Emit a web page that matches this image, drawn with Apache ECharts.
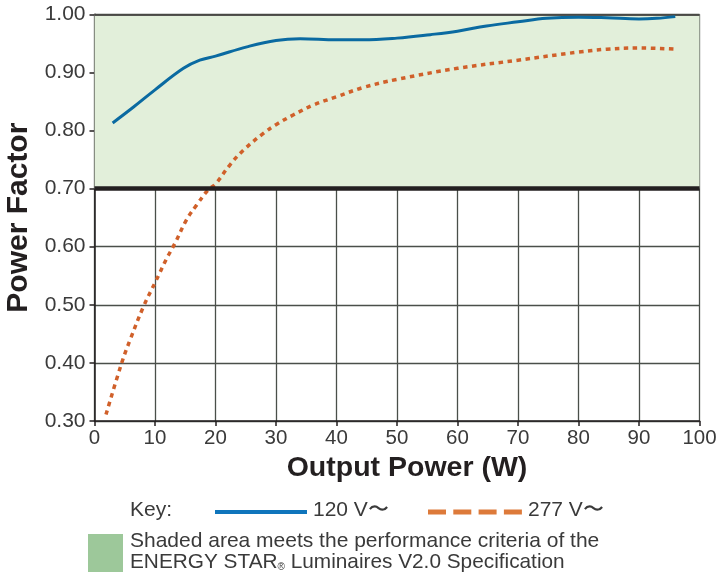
<!DOCTYPE html>
<html>
<head>
<meta charset="utf-8">
<script src="https://cdn.jsdelivr.net/npm/echarts@6/dist/echarts.min.js"></script>
<style>html,body{margin:0;padding:0;background:#fff}#c{width:717px;height:574px}</style>
</head>
<body>
<div id="c"></div>
<script>
const xTicks = [0,10,20,30,40,50,60,70,80,90,100];
const yTicks = [0.30,0.40,0.50,0.60,0.70,0.80,0.90,1.00];
const s120x = [3, 6.4, 10, 14.7, 17.4, 20, 25.2, 30, 34, 40, 44.4, 50, 55.5, 60, 64.8, 70, 74.7, 80, 84.7, 90, 92.9, 96];
const s120y = [0.813, 0.840, 0.870, 0.907, 0.921, 0.928, 0.944, 0.955, 0.958, 0.956, 0.956, 0.959, 0.965, 0.971, 0.980, 0.987, 0.993, 0.995, 0.994, 0.992, 0.993, 0.996];
const s277x = [1.9, 4.5, 5.9, 8.1, 10.1, 11.9, 13.3, 15.2, 16.9, 18.8, 20, 22.4, 24.6, 27.9, 30, 32.9, 36.2, 40, 44.4, 50, 60, 70, 80, 84.7, 90, 96];
const s277y = [0.311, 0.400, 0.440, 0.497, 0.540, 0.579, 0.606, 0.646, 0.672, 0.698, 0.708, 0.741, 0.766, 0.795, 0.810, 0.827, 0.844, 0.858, 0.874, 0.888, 0.907, 0.921, 0.935, 0.940, 0.942, 0.940];
const threshold = 0.70;
const seriesNames = ['120 V〜', '277 V〜'];

const chart = echarts.init(document.getElementById('c'), null, {renderer: 'canvas'});
const font = '"Liberation Sans", Arial, sans-serif';
const zip = (xs, ys) => xs.map((x, i) => [x, ys[i]]);
const txt = {fontFamily: font, fontSize: 21, fill: '#3a3a3a'};

chart.setOption({
  animation: false,
  grid: {left: 94.5, right: 17.5, top: 14.3, bottom: 153, containLabel: false, outerBoundsMode: 'none'},
  xAxis: {
    type: 'value', min: xTicks[0], max: xTicks[xTicks.length-1], interval: 10,
    name: 'Output Power (W)', nameLocation: 'middle', nameGap: 33,
    nameTextStyle: {fontFamily: font, fontSize: 28.5, fontWeight: 'bold', color: '#231f20', padding: [0, 0, 0, 20]},
    axisLine: {show: true, lineStyle: {color: '#231f20', width: 1.5}},
    axisTick: {show: true, length: 5, lineStyle: {color: '#231f20', width: 1.5}},
    axisLabel: {fontFamily: font, fontSize: 20.5, color: '#3a3a3a', margin: 7},
    splitLine: {show: true, lineStyle: {color: '#4a4f4a', width: 1.3}}
  },
  yAxis: {
    type: 'value', min: yTicks[0], max: yTicks[yTicks.length-1], interval: 0.1,
    name: 'Power Factor', nameLocation: 'middle', nameGap: 60, nameRotate: 90,
    nameTextStyle: {fontFamily: font, fontSize: 30, fontWeight: 'bold', color: '#231f20'},
    axisLine: {show: true, lineStyle: {color: '#231f20', width: 1.5}},
    axisTick: {show: true, length: 5, lineStyle: {color: '#231f20', width: 1.5}},
    axisLabel: {fontFamily: font, fontSize: 21, color: '#3a3a3a', margin: 9,
      formatter: v => v.toFixed(2)},
    splitLine: {show: true, lineStyle: {color: '#4a4f4a', width: 1.3}}
  },
  series: [
    {
      name: 'zone', type: 'line', data: [], silent: true,
      markArea: {silent: true, itemStyle: {color: '#e2efda'},
        data: [[{coord: [xTicks[0], threshold]}, {coord: [xTicks[xTicks.length-1], yTicks[yTicks.length-1]]}]]},
      markLine: {silent: true, symbol: 'none', label: {show: false},
        data: [
          {yAxis: threshold, lineStyle: {color: '#231f20', width: 4.5, type: 'solid'}},
          {yAxis: yTicks[yTicks.length-1], lineStyle: {color: '#231f20', width: 1.5, type: 'solid'}}
        ]}
    },
    {
      name: seriesNames[0], type: 'line', smooth: 0.4, symbol: 'none', z: 5,
      data: zip(s120x, s120y),
      lineStyle: {color: '#0a6aa1', width: 3}
    },
    {
      name: seriesNames[1], type: 'line', smooth: 0.4, symbol: 'none', z: 4,
      data: zip(s277x, s277y),
      lineStyle: {color: '#d0602a', width: 3.5, type: [4.5, 4.5]}
    }
  ],
  graphic: [
    {type: 'text', left: 130, top: 500, style: Object.assign({text: 'Key:'}, txt)},
    {type: 'line', shape: {x1: 215, y1: 512, x2: 307, y2: 512}, style: {stroke: '#0f75bc', lineWidth: 4}},
    {type: 'text', left: 313, top: 500, style: Object.assign({text: seriesNames[0]}, txt)},
    {type: 'line', shape: {x1: 428, y1: 512, x2: 522, y2: 512}, style: {stroke: '#dd7a3a', lineWidth: 5, lineDash: [18, 7.3]}},
    {type: 'text', left: 528, top: 500, style: Object.assign({text: seriesNames[1]}, txt)},
    {type: 'rect', shape: {x: 88, y: 534, width: 35, height: 38}, style: {fill: '#9dc89a'}},
    {type: 'text', left: 130, top: 531, style: Object.assign({text: 'Shaded area meets the performance criteria of the'}, txt)},
    {type: 'text', left: 130, top: 552, style: {
      rich: {a: {fontFamily: font, fontSize: 20.8, fill: '#3a3a3a'}, r: {fontFamily: font, fontSize: 10, fill: '#3a3a3a', verticalAlign: 'bottom', padding: [0,0,1,0]}},
      text: '{a|ENERGY STAR}{r|®}{a| Luminaires V2.0 Specification}'}}
  ]
});
</script>
</body>
</html>
